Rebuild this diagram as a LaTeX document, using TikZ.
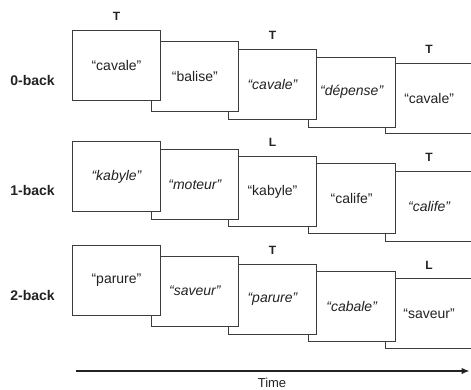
\documentclass[tikz,border=0pt]{standalone}
\usepackage{fontspec}
\setmainfont{Liberation Sans}
\usetikzlibrary{arrows.meta}
\definecolor{ink}{HTML}{222222}
\definecolor{edge}{HTML}{3C3C3C}
\tikzset{
  wbox/.style={draw=edge, line width=0.9pt, fill=white, anchor=north west,
    minimum width=87.4pt, minimum height=70pt, inner sep=0pt,
    text=ink, font=\fontsize{14}{16}\selectfont},
  tlab/.style={text=ink, font=\fontsize{12}{14}\selectfont\bfseries, inner sep=0pt},
  rowlab/.style={text=ink, font=\fontsize{14}{16}\selectfont\bfseries, inner sep=0pt},
  timelab/.style={text=ink, font=\fontsize{13}{15}\selectfont, inner sep=0pt},
  timearrow/.style={draw=ink, line width=1.3pt, -{Latex[length=8pt,width=6.5pt]}}
}
\begin{document}
\begin{tikzpicture}[x=1pt,y=-1pt]
\useasboundingbox (0,0) rectangle (471,389);
% ---------- row 1 (0-back), drawn back to front ----------
\node[wbox] (r1b5) at (385,63.3) {“cavale”};
\node[wbox] (r1b4) at (307.5,56.5) {\itshape “dépense”};
\node[wbox] (r1b3) at (228.3,49.3) {\itshape “cavale”};
\node[wbox] (r1b2) at (150.7,40.7) {“balise”};
\node[wbox] (r1b1) at (72.3,30.3) {“cavale”};
\node[tlab] (r1t1) at ([yshift=13.8pt]r1b1.north) {T};
\node[tlab] (r1t3) at ([yshift=13.8pt]r1b3.north) {T};
\node[tlab] (r1t5) at ([yshift=13.8pt]r1b5.north) {T};
\node[rowlab] (r1lab) at (32.5,80) {0-back};
% ---------- row 2 (1-back) ----------
\node[wbox] (r2b5) at (385,170.7) {\itshape “calife”};
\node[wbox] (r2b4) at (307.5,163.3) {“calife”};
\node[wbox] (r2b3) at (228.3,156) {“kabyle”};
\node[wbox] (r2b2) at (150.7,149.3) {\itshape “moteur”};
\node[wbox] (r2b1) at (72.3,141) {\itshape “kabyle”};
\node[tlab] (r2t3) at ([yshift=13.2pt]r2b3.north) {L};
\node[tlab] (r2t5) at ([yshift=13.4pt]r2b5.north) {T};
\node[rowlab] (r2lab) at (32.5,190) {1-back};
% ---------- row 3 (2-back) ----------
\node[wbox] (r3b5) at (385,278) {“saveur”};
\node[wbox] (r3b4) at (307.5,270.7) {\itshape “cabale”};
\node[wbox] (r3b3) at (228.3,264) {\itshape “parure”};
\node[wbox] (r3b2) at (150.7,255.5) {\itshape “saveur”};
\node[wbox] (r3b1) at (72.3,244.7) {“parure”};
\node[tlab] (r3t3) at ([yshift=14pt]r3b3.north) {T};
\node[tlab] (r3t5) at ([yshift=12.5pt]r3b5.north) {L};
\node[rowlab] (r3lab) at (32.5,295) {2-back};
% ---------- time axis ----------
\coordinate (tstart) at (76,371);
\coordinate (tend) at (469.5,371);
\draw[timearrow] (tstart) -- (tend);
\node[timelab] (timelab) at (272,382.7) {Time};
\end{tikzpicture}
\end{document}
